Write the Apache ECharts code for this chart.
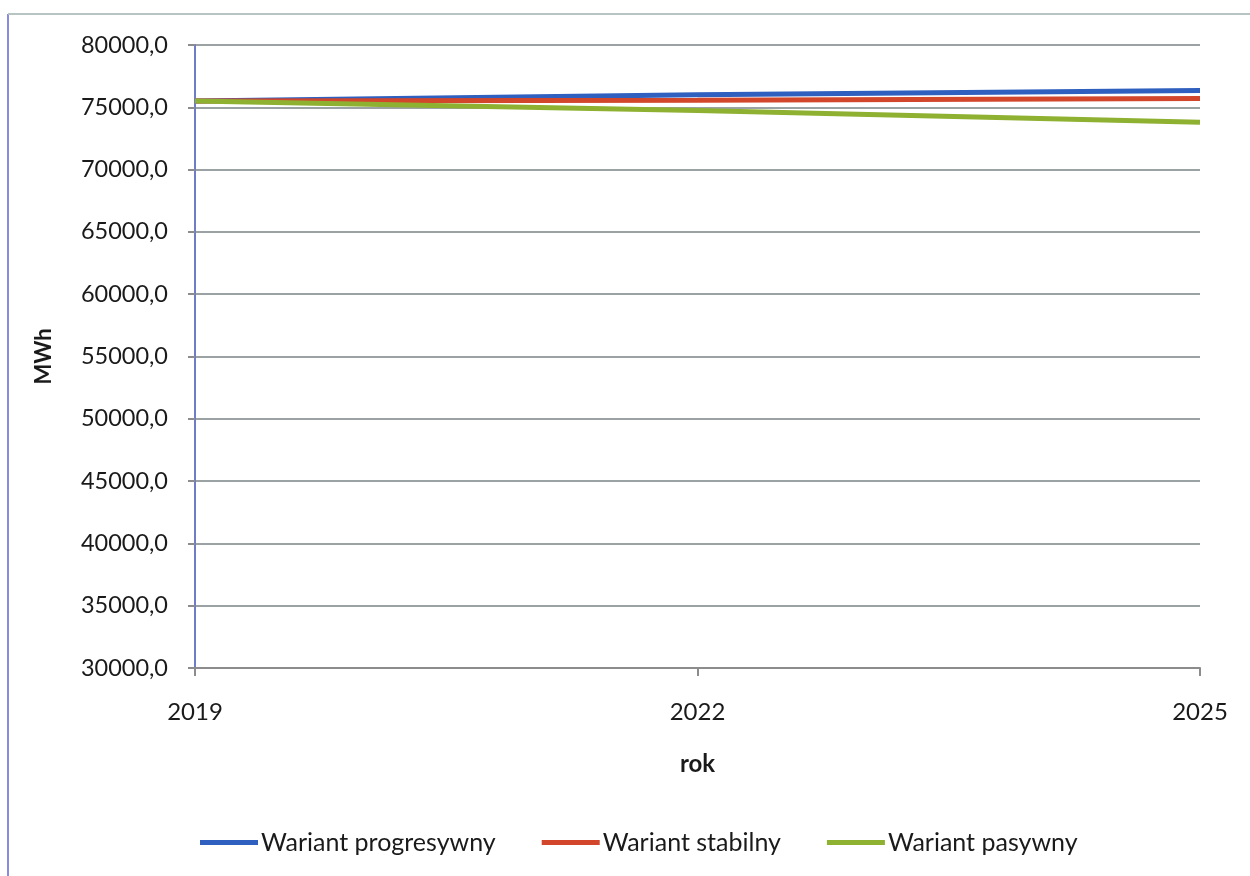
<!DOCTYPE html>
<html>
<head>
<meta charset="utf-8">
<script src="https://cdn.jsdelivr.net/npm/echarts@6/dist/echarts.min.js"></script>
<style>
html,body{margin:0;padding:0;background:#fff;}
#chart{width:1250px;height:876px;}
</style>
</head>
<body>
<div id="chart"></div>
<script>
const years = ['2019', '2022', '2025'];
const seriesNames = ['Wariant progresywny', 'Wariant stabilny', 'Wariant pasywny'];
const progresywny = [75500, 76000, 76350];
const stabilny = [75500, 75560, 75700];
const pasywny = [75500, 74750, 73800];
const yMin = 30000, yMax = 80000, yStep = 5000;

const colors = ['#2f5fbf', '#d2462c', '#8fb131'];
const FONT = 'Lato';

const chart = echarts.init(document.getElementById('chart'), null, {renderer: 'canvas'});
chart.setOption({
  backgroundColor: '#ffffff',
  animation: false,
  textStyle: {fontFamily: FONT, color: '#1a1a1a'},
  graphic: [
    {type: 'line', shape: {x1: 8, y1: 14, x2: 8, y2: 876}, style: {stroke: '#8a8ae0', lineWidth: 2}},
    {type: 'line', shape: {x1: 8, y1: 14, x2: 1250, y2: 14}, style: {stroke: '#b8c4c4', lineWidth: 2}}
  ],
  grid: {left: 195, right: 50, top: 45, bottom: 208, containLabel: false},
  legend: {
    data: seriesNames,
    left: 200, top: 830, padding: 0,
    icon: 'rect', itemWidth: 58, itemHeight: 5, itemGap: 46,
    textStyle: {fontFamily: FONT, fontSize: 25, color: '#1a1a1a', padding: [0, 0, 0, -2]}
  },
  xAxis: {
    type: 'category', data: years, boundaryGap: false,
    name: 'rok', nameLocation: 'middle', nameGap: 84,
    nameTextStyle: {fontFamily: FONT, fontSize: 24, fontWeight: 'bold', color: '#1a1a1a'},
    axisLine: {lineStyle: {color: '#8c8c8c', width: 2}},
    axisTick: {show: true, alignWithLabel: true, length: 8, lineStyle: {color: '#8c8c8c', width: 2}},
    axisLabel: {fontFamily: FONT, fontSize: 24, color: '#1a1a1a', margin: 32},
    splitLine: {show: false}
  },
  yAxis: {
    type: 'value', min: yMin, max: yMax, interval: yStep,
    name: 'MWh', nameLocation: 'middle', nameGap: 140, nameRotate: 90,
    nameTextStyle: {fontFamily: FONT, fontSize: 22, fontWeight: 'bold', color: '#1a1a1a'},
    axisLine: {show: true, lineStyle: {color: '#6f7cc8', width: 2}},
    axisTick: {show: true, length: 7, lineStyle: {color: '#8c8c8c', width: 2}},
    axisLabel: {
      fontFamily: FONT, fontSize: 23.5, color: '#1a1a1a', margin: 27,
      formatter: v => v.toFixed(1).replace('.', ',')
    },
    splitLine: {show: true, lineStyle: {color: '#9aa2a4', width: 2}}
  },
  series: [
    {name: seriesNames[0], type: 'line', data: progresywny, showSymbol: false, symbol: 'none',
     lineStyle: {color: colors[0], width: 5}, itemStyle: {color: colors[0]}},
    {name: seriesNames[1], type: 'line', data: stabilny, showSymbol: false, symbol: 'none',
     lineStyle: {color: colors[1], width: 5}, itemStyle: {color: colors[1]}},
    {name: seriesNames[2], type: 'line', data: pasywny, showSymbol: false, symbol: 'none',
     lineStyle: {color: colors[2], width: 5}, itemStyle: {color: colors[2]}}
  ]
});
</script>
</body>
</html>
